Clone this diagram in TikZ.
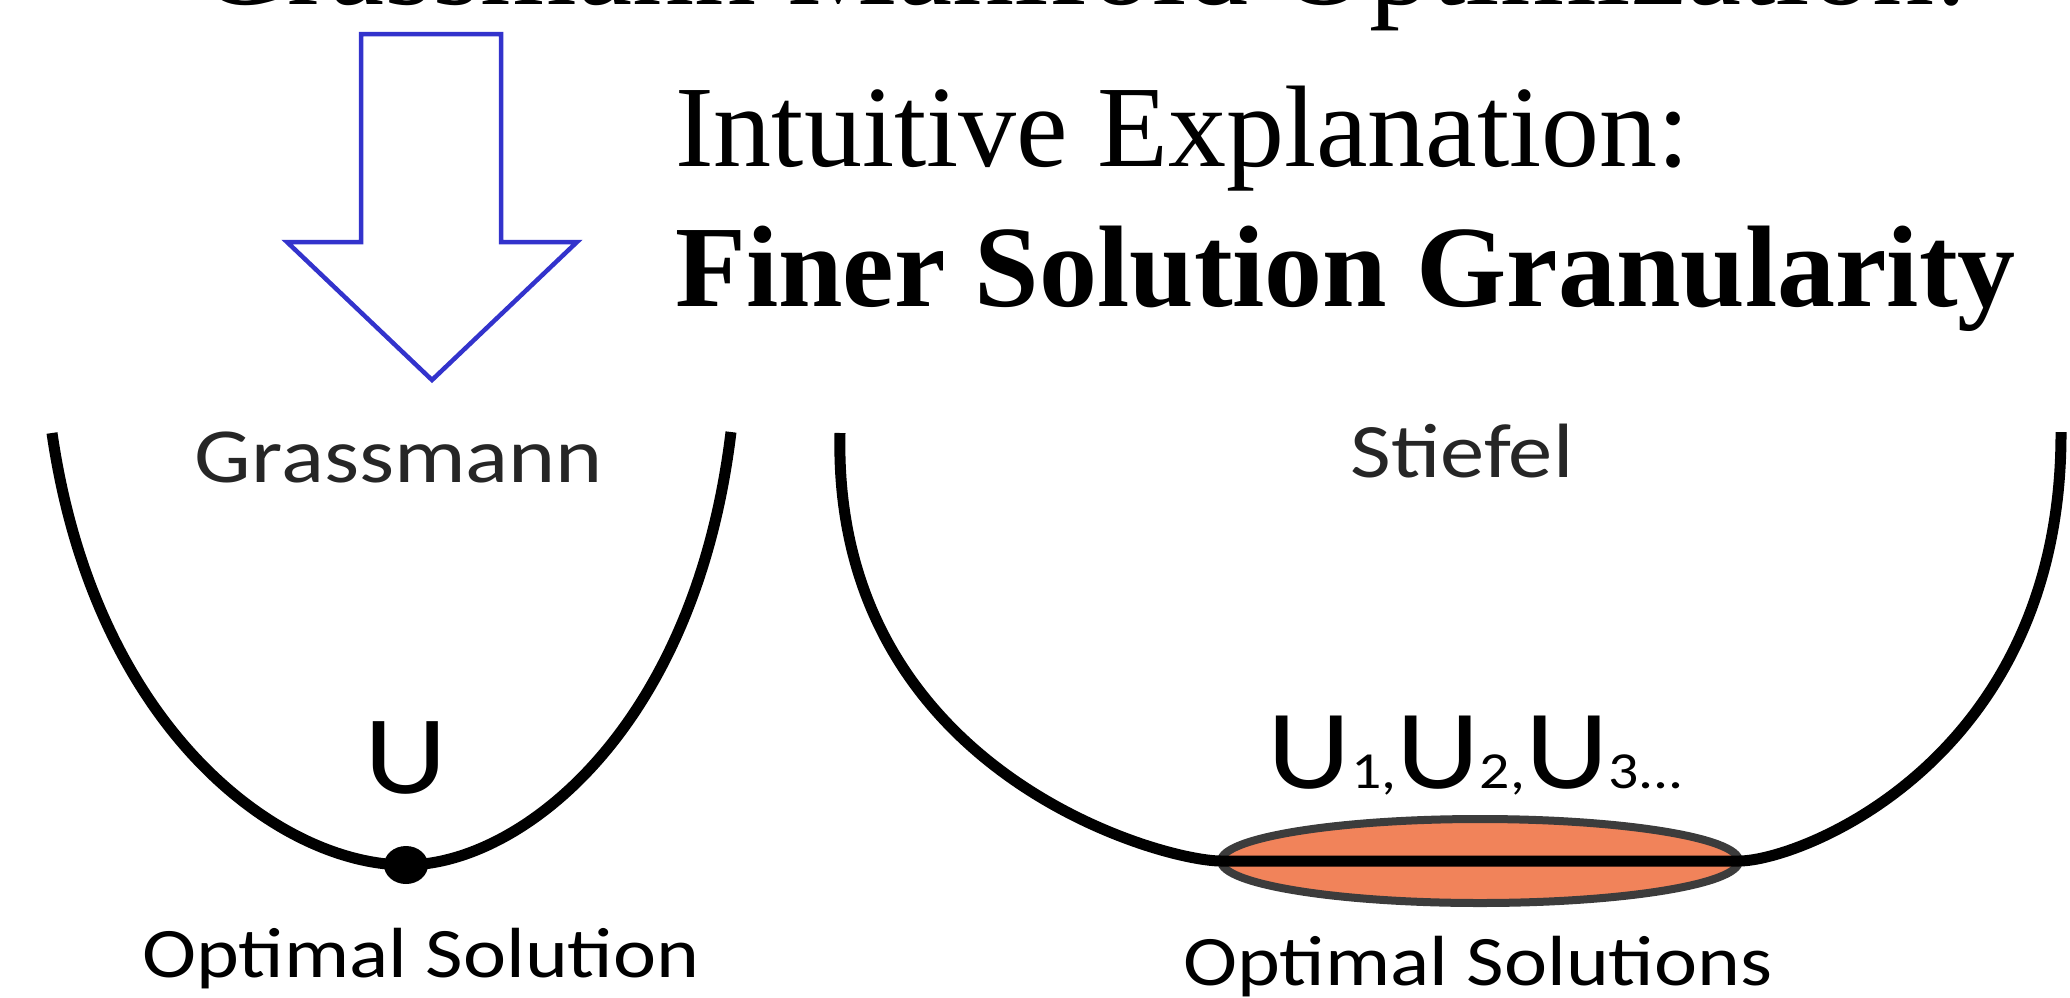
\documentclass[tikz,border=0pt]{standalone}
\usepackage{fontspec}
\setmainfont{Liberation Serif}
\newfontfamily\plotfont[FakeStretch=1.15]{Carlito}
\usepackage{xcolor}
\usetikzlibrary{positioning, shapes.geometric}

\definecolor{arrowblue}{RGB}{51,51,204}
\definecolor{solorange}{RGB}{241,131,90}
\definecolor{solgray}{RGB}{60,60,60}

\newcommand{\smalldigits}[1]{{\fontsize{52}{52}\selectfont #1}}

\begin{document}
\begin{tikzpicture}[x=1pt, y=-1pt, line join=miter,
  headline/.style={inner sep=0pt, anchor=base west, font=\fontsize{116}{116}\selectfont},
  plotlabel/.style={inner sep=0pt, anchor=base, font=\plotfont\fontsize{#1}{#1}\selectfont},
  valley/.style={line width=11pt, line cap=butt}]
  \useasboundingbox (0,0) rectangle (2070,997);

  % heading (cut by the top edge)
  \node[headline, font=\fontsize{124}{124}\selectfont] (title) at (198,4) {Grassmann Manifold Optimization:};
  \node[headline] (intuit) at (675,166) {Intuitive Explanation:};
  \node[headline, font=\fontsize{116}{116}\selectfont\bfseries, below=140pt of intuit.base west, anchor=base west] (finer) {Finer Solution Granularity};

  % block arrow
  \draw[arrowblue, line width=4.5pt] (361,34) -- (501,34) -- (501,242) -- (577,242)
    -- (432,380) -- (287,242) -- (361,242) -- cycle;

  % Grassmann valley
  \node[plotlabel=78, text=black!85] (grass) at (399,482) {Grassmann};
  \coordinate (gbottom) at (406,865);
  \draw[valley] (52,433) .. controls (95,730) and (280,865) .. (gbottom)
    .. controls (520,865) and (695,730) .. (731,432);
  \node[ellipse, fill, inner sep=0pt, minimum width=44pt, minimum height=38pt] (optone) at (gbottom) {};
  \node[plotlabel=112] (u) at (406,793) {U};
  \node[plotlabel=71] (optlabel) at (421,977) {Optimal Solution};

  % Stiefel valley
  \node[plotlabel=77, text=black!85] (stief) at (1462,477) {Stiefel};
  \node[ellipse, draw=solgray, fill=solorange, line width=8pt, inner sep=0pt, outer sep=0pt,
    minimum width=518pt, minimum height=84pt] (sols) at (1480,861) {};
  \draw[valley] (840,433) .. controls (832,770) and (1160,861) .. (sols.west) -- (sols.east)
    .. controls (1800,861) and (2062,760) .. (2061,432);
  \node[plotlabel=113] (ulist) at (1476,788) {U\smalldigits{1,}U\smalldigits{2,}U\smalldigits{3...}};
  \node[plotlabel=71] (optslabel) at (1478,985) {Optimal Solutions};
\end{tikzpicture}
\end{document}
